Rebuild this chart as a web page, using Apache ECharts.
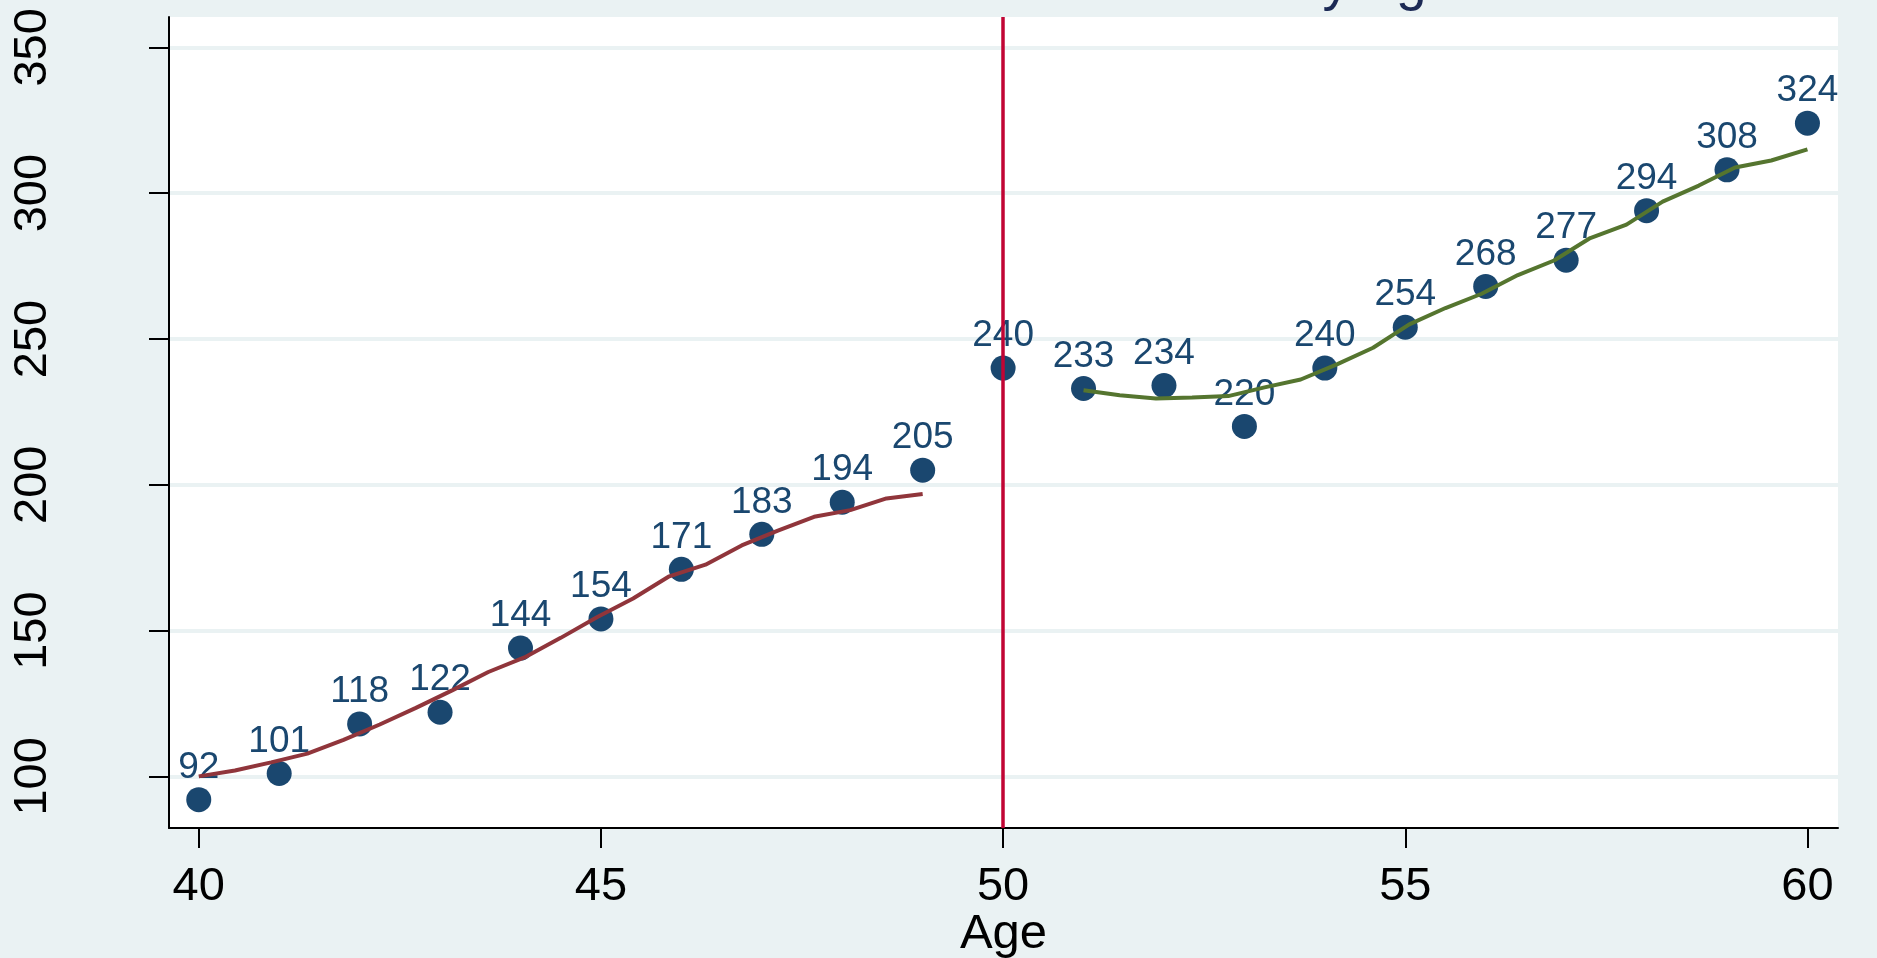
<!DOCTYPE html>
<html>
<head>
<meta charset="utf-8">
<script src="https://cdn.jsdelivr.net/npm/echarts@6/dist/echarts.min.js"></script>
<style>
html,body{margin:0;padding:0;background:#EAF2F3;}
#chart{width:1877px;height:958px;}
</style>
</head>
<body>
<div id="chart"></div>
<script>
// ---- data ----
const ages = [40,41,42,43,44,45,46,47,48,49,50,51,52,53,54,55,56,57,58,59,60];
const counts = [92,101,118,122,144,154,171,183,194,205,240,233,234,220,240,254,268,277,294,308,324];

const leftFitX = [40,40.45,40.9,41.35,41.8,42.25,42.7,43.15,43.6,44.05,44.5,44.95,45.4,45.85,46.3,46.75,47.2,47.65,48.1,48.55,49];
const leftFitY = [100,102,104.8,107.8,112.5,117.8,123.5,129.5,135.8,140.8,147.5,154.6,161,168.6,172.6,179.2,184.3,189,191.3,195.3,196.8];

const rightFitX = [51,51.45,51.9,52.35,52.8,53.25,53.7,54.15,54.6,55.05,55.5,55.95,56.4,56.85,57.3,57.75,58.2,58.65,59.1,59.55,60];
const rightFitY = [232.4,230.7,229.6,229.9,230.4,233.4,236.1,241.3,247,255,260.6,265.5,271.9,276.9,284.6,289.2,297.1,302.6,308.8,311.2,315];

const cutoffAge = 50;
const xTicks = [40,45,50,55,60];
const yTicks = [100,150,200,250,300,350];
const xTitle = 'Age';
const titleText = 'by age';

// ---- chart ----
const FONT = '"Liberation Sans", Arial, Helvetica, sans-serif';
const chart = echarts.init(document.getElementById('chart'), null, {renderer:'canvas'});
const zip = (xs, ys) => xs.map((x,i)=>[x, ys[i]]);

chart.setOption({
  backgroundColor: '#EAF2F3',
  animation: false,
  graphic: [{
    type: 'text',
    left: 1292,
    top: -44,
    style: {text: titleText, font: '55px ' + FONT, fill: '#1C2A55'}
  }],
  grid: {left:169, right:39, top:17, bottom:130, show:true, backgroundColor:'#FFFFFF', borderWidth:0,
         containLabel:false, outerBoundsMode:'none'},
  xAxis: {
    type:'value', min:39.63, max:60.38,
    name: xTitle, nameLocation:'middle', nameGap:82, nameMoveOverlap:false,
    nameTextStyle:{fontSize:49, fontFamily:FONT, color:'#000'},
    axisLine:{show:true, onZero:false, lineStyle:{color:'#000', width:2}},
    axisTick:{show:true, length:20, lineStyle:{color:'#000', width:2}, customValues:xTicks},
    axisLabel:{fontSize:47, fontFamily:FONT, color:'#000', margin:36, customValues:xTicks},
    splitLine:{show:false}
  },
  yAxis: {
    type:'value', min:82.3, max:360.4,
    axisLine:{show:true, onZero:false, lineStyle:{color:'#000', width:2}},
    axisTick:{show:true, length:20, lineStyle:{color:'#000', width:2}, customValues:yTicks},
    axisLabel:{fontSize:47, fontFamily:FONT, color:'#000', rotate:90, margin:112, customValues:yTicks},
    splitLine:{show:true, lineStyle:{color:'#EAF2F3', width:4}}
  },
  series: [
    {
      type:'line', data:[], z:1, silent:true,
      markLine:{
        symbol:'none', silent:true, animation:false,
        label:{show:false},
        lineStyle:{color:'#C10534', width:3.5, type:'solid'},
        data:[{xAxis:cutoffAge}]
      }
    },
    {
      type:'scatter', z:2,
      data: zip(ages, counts),
      symbol:'circle', symbolSize:25,
      itemStyle:{color:'#1A476F', opacity:1},
      label:{show:true, position:'top', distance:1, fontSize:37, fontFamily:FONT, color:'#1A476F', opacity:1,
             formatter: p => String(p.value[1])}
    },
    {
      type:'line', z:3, data: zip(leftFitX, leftFitY),
      showSymbol:false, smooth:false,
      lineStyle:{color:'#90353B', width:4}
    },
    {
      type:'line', z:3, data: zip(rightFitX, rightFitY),
      showSymbol:false, smooth:false,
      lineStyle:{color:'#55752F', width:4}
    }
  ]
});
</script>
</body>
</html>
